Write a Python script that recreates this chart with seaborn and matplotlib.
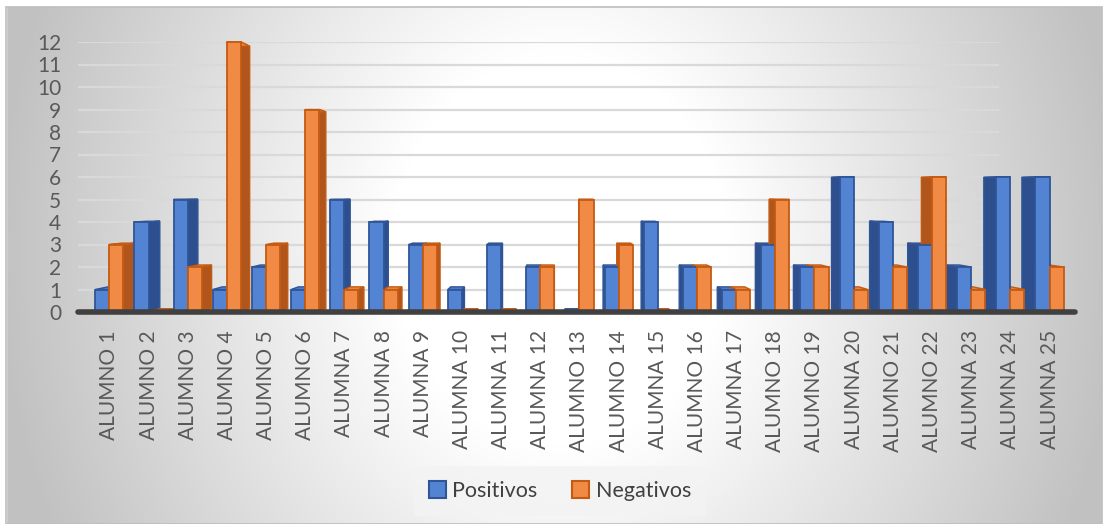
import numpy as np
import pandas as pd
import matplotlib
matplotlib.use("Agg")
import matplotlib.pyplot as plt
from matplotlib.patches import Polygon, Patch, Rectangle
import seaborn as sns

categories = ["ALUMNO 1", "ALUMNO 2", "ALUMNO 3", "ALUMNO 4", "ALUMNO 5", "ALUMNO 6",
              "ALUMNA 7", "ALUMNA 8", "ALUMNA 9", "ALUMNA 10", "ALUMNA 11", "ALUMNA 12",
              "ALUMNO 13", "ALUMNO 14", "ALUMNA 15", "ALUMNO 16", "ALUMNA 17", "ALUMNO 18",
              "ALUMNO 19", "ALUMNA 20", "ALUMNO 21", "ALUMNO 22", "ALUMNA 23", "ALUMNA 24",
              "ALUMNA 25"]
positivos = [1, 4, 5, 1, 2, 1, 5, 4, 3, 1, 3, 2, 0, 2, 4, 2, 1, 3, 2, 6, 4, 3, 2, 6, 6]
negativos = [3, 0, 2, 12, 3, 9, 1, 1, 3, 0, 0, 2, 5, 3, 0, 2, 1, 5, 2, 1, 2, 6, 1, 1, 2]
series_names = ["Positivos", "Negativos"]
yticks = list(range(0, 13))

front_colors = {"Positivos": "#5383D3", "Negativos": "#F08A45"}
edge_colors = {"Positivos": "#2F5597", "Negativos": "#C55A11"}
side_colors = {"Positivos": "#2E4F8E", "Negativos": "#B0561C"}

df = pd.DataFrame({
    "Alumno": categories * 2,
    "Valor": positivos + negativos,
    "Serie": [series_names[0]] * len(categories) + [series_names[1]] * len(categories),
})

sns.set_theme(style="white")
plt.rcParams["font.family"] = ["Lato", "DejaVu Sans"]

W, H = 1108, 524
fig = plt.figure(figsize=(W / 100, H / 100), dpi=100)

# background radial gradient
bg = fig.add_axes([0, 0, 1, 1], zorder=-5)
yy, xx = np.mgrid[0:H, 0:W]
t = np.sqrt(((xx - 560) / 560.0) ** 2 + ((yy - 250) / 650.0) ** 2)
val = 1 - 0.24 * np.clip((t - 0.3) / 0.7, 0, 1)
img = np.dstack([val, val, val])
bg.imshow(img, extent=(0, W, H, 0), aspect="auto", interpolation="bilinear")
bg.set_xlim(0, W)
bg.set_ylim(H, 0)
bg.axis("off")
bg.add_patch(Rectangle((0, 0), W, 6, color="white", zorder=2))
bg.add_patch(Rectangle((0, 0), 6, H, color="white", zorder=2))
bg.add_patch(Rectangle((1102, 0), 10, H, color="white", zorder=2))
bg.add_patch(Rectangle((6, 6.5), 1096, H - 6.5, fill=False, edgecolor="#bdbdbd", lw=1.2, zorder=3))

ax = fig.add_axes([78 / W, 1 - 312 / H, (1075 - 78) / W, (312 - 42) / H])
ax.set_facecolor("none")
sns.barplot(data=df, x="Alumno", y="Valor", hue="Serie", palette=front_colors,
            width=0.72, legend=False, ax=ax, zorder=3, saturation=1)

ax.set_xlim(-0.8, 24.65)
ax.set_ylim(0, 12)

# gridlines on the back wall
ax.hlines(yticks[1:], -0.8, 22.7, colors="#d9d9d9", lw=1.6, zorder=0)

# perspective pseudo-3D faces derived from the bar patches
vpx, vpy, s = 11.3, 5.2, 0.028
def back(px, py):
    return px + s * (vpx - px), py + s * (vpy - py)

for name, cont in zip(series_names, ax.containers):
    for p in cont.patches:
        x0, w, h = p.get_x(), p.get_width(), p.get_height()
        x1 = x0 + w
        p.set_edgecolor(edge_colors[name])
        p.set_linewidth(1.3)
        p.set_zorder(3)
        p.set_clip_on(False)
        xe = x1 if (x0 + x1) / 2 < vpx else x0
        bxe0, by0 = back(xe, 0)
        bxe1, byh = back(xe, h)
        side = Polygon([(xe, 0), (xe, h), (bxe1, byh), (bxe0, by0)], closed=True,
                       facecolor=side_colors[name], edgecolor=edge_colors[name],
                       lw=1.0, zorder=2, clip_on=False)
        ax.add_patch(side)
        tx0, ty = back(x0, h)
        tx1, _ = back(x1, h)
        top = Polygon([(x0, h), (x1, h), (tx1, ty), (tx0, ty)], closed=True,
                      facecolor=front_colors[name], edgecolor=edge_colors[name],
                      lw=1.0, zorder=2, clip_on=False)
        ax.add_patch(top)

ax.set_yticks(yticks)
for sp in ["top", "right", "left"]:
    ax.spines[sp].set_visible(False)
ax.spines["bottom"].set_color("#404040")
ax.spines["bottom"].set_linewidth(4)
ax.spines["bottom"].set_capstyle("round")
ax.spines["bottom"].set_zorder(4)
ax.set_xlabel("")
ax.set_ylabel("")
ax.tick_params(axis="y", length=0, pad=12, labelsize=15, labelcolor="#595959")
ax.tick_params(axis="x", length=0, pad=13, labelsize=15, labelcolor="#595959", labelrotation=90)

handles = [Patch(facecolor=front_colors[n], edgecolor=edge_colors[n], lw=1.5) for n in series_names]
leg = fig.legend(handles, series_names, loc="center", bbox_to_anchor=(560 / W, 1 - 491 / H),
                 ncol=2, frameon=True, fancybox=False, fontsize=15.5, handlelength=0.8,
                 handleheight=0.8, handletextpad=0.3, columnspacing=1.6,
                 borderpad=0.7, labelcolor="#404040")
leg.get_frame().set_facecolor("#f3f3f3")
leg.get_frame().set_edgecolor("none")

fig.savefig("out.png", dpi=100)
